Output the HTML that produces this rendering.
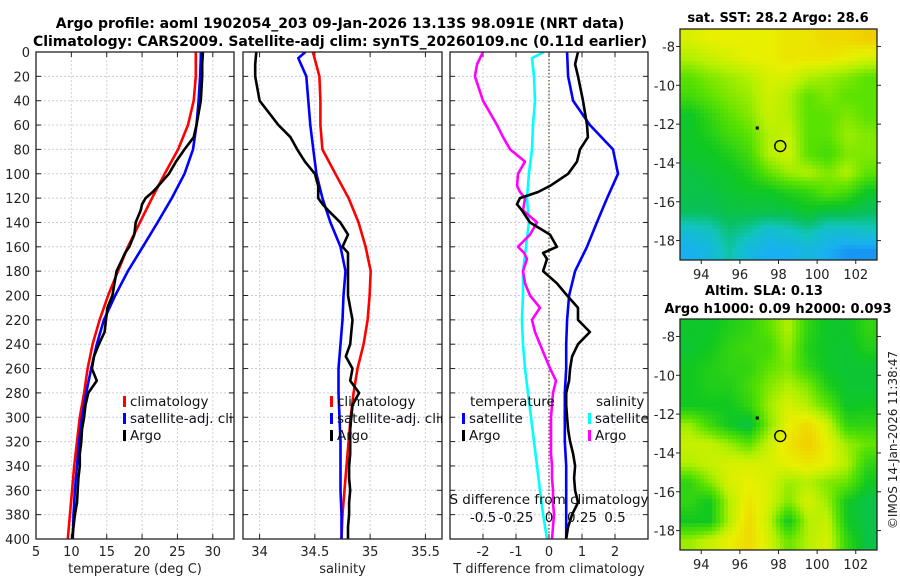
<!DOCTYPE html>
<html><head><meta charset="utf-8"><style>
html,body{margin:0;padding:0;background:#fff;}
svg{display:block;font-family:"DejaVu Sans","Liberation Sans",sans-serif;}
</style></head><body>
<svg id="fig" width="900" height="580" viewBox="0 0 900 580">
<text x="340" y="28" text-anchor="middle" font-size="14" font-weight="bold">Argo profile: aoml 1902054_203 09-Jan-2026 13.13S 98.091E (NRT data)</text>
<text x="340" y="46" text-anchor="middle" font-size="14" font-weight="bold">Climatology: CARS2009. Satellite-adj clim: synTS_20260109.nc (0.11d earlier)</text>
<text x="778" y="22" text-anchor="middle" font-size="13" font-weight="bold">sat. SST: 28.2 Argo: 28.6</text>
<text x="764" y="295" text-anchor="middle" font-size="13" font-weight="bold">Altim. SLA: 0.13</text>
<text x="778" y="313" text-anchor="middle" font-size="13" font-weight="bold">Argo h1000: 0.09 h2000: 0.093</text>
<text transform="translate(897,440) rotate(-90)" text-anchor="middle" font-size="12" fill="#222">©IMOS 14-Jan-2026 11:38:47</text>
</svg>
<script>
// ---- profile data ----
const climDepth = [0,20,40,60,80,100,120,140,160,180,200,220,240,260,280,300,320,340,360,380,400];
const satDepth = [0,5,20,40,60,80,100,120,140,160,180,200,220,240,260,280,300,320,340,360,380,400];
const argoDepth = [0,10,20,40,60,70,80,90,100,110,115,120,125,130,140,150,160,165,170,180,190,200,210,220,230,240,250,260,270,280,290,300,310,320,330,340,350,360,370,380,390,400];
const climTemp = [27.6,27.6,27.3,26.5,25.1,23.2,21.4,19.7,18.0,16.6,15.2,14.0,13.0,12.3,11.8,11.2,10.8,10.4,10.1,9.8,9.5];
const satTemp = [28.3,28.3,28.2,28.0,27.7,27.2,26.0,24.2,22.2,20.1,18.0,16.2,14.6,13.6,12.8,12.1,11.5,11.1,10.8,10.5,10.3,10.2];
const argoTemp = [28.6,28.5,28.5,28.3,27.7,27.3,26.0,24.8,23.8,22.3,21.5,20.5,20.0,19.8,19.1,18.9,18.2,17.6,17.2,16.4,16.1,15.8,15.1,14.9,14.7,13.9,13.2,12.9,13.6,12.4,12.0,11.8,11.5,11.4,11.2,11.2,11.0,10.9,10.8,10.5,10.3,10.1];
const climSal = [34.482,34.541,34.550,34.550,34.568,34.686,34.805,34.895,34.959,35.005,34.995,34.977,34.941,34.886,34.850,34.823,34.805,34.786,34.768,34.750,34.741];
const satSal = [34.414,34.350,34.423,34.441,34.459,34.486,34.514,34.568,34.641,34.732,34.777,34.759,34.750,34.732,34.714,34.714,34.723,34.732,34.732,34.732,34.741,34.741];
const argoSal = [33.97,33.96,33.96,34.0,34.17,34.28,34.34,34.41,34.50,34.53,34.53,34.53,34.57,34.62,34.73,34.80,34.75,34.80,34.80,34.80,34.80,34.80,34.82,34.84,34.83,34.82,34.78,34.84,34.82,34.90,34.84,34.83,34.82,34.82,34.82,34.81,34.81,34.82,34.81,34.81,34.80,34.80];
const satTempDiff = [0.55,0.58,0.73,1.24,1.94,2.09,1.76,1.45,1.15,0.79,0.61,0.55,0.52,0.52,0.48,0.48,0.48,0.52,0.52,0.52,0.52];
const argoTempDiff = [0.88,0.79,0.88,1.03,1.15,1.18,0.94,0.85,0.58,0.03,-0.33,-0.88,-0.97,-0.82,-0.58,0.03,0.24,-0.18,-0.06,-0.18,0.24,0.55,0.88,0.88,1.24,0.88,0.70,0.64,0.61,0.52,0.52,0.55,0.58,0.64,0.73,0.79,0.76,0.79,0.88,0.70,0.58,0.52];
const satSalDiff = [-0.038,-0.129,-0.114,-0.106,-0.121,-0.129,-0.152,-0.167,-0.152,-0.174,-0.197,-0.197,-0.205,-0.197,-0.182,-0.159,-0.136,-0.114,-0.091,-0.068,-0.045,-0.015];
const argoSalDiff = [-0.500,-0.545,-0.561,-0.500,-0.394,-0.348,-0.295,-0.182,-0.235,-0.242,-0.220,-0.182,-0.189,-0.197,-0.091,-0.144,-0.235,-0.189,-0.167,-0.197,-0.182,-0.144,-0.068,-0.129,-0.106,-0.068,-0.030,0.008,0.053,0.030,0.023,0.015,0.015,0.015,0.015,0.023,0.023,0.030,0.030,0.038,0.030,0.023];
const depthTicks = [0,20,40,60,80,100,120,140,160,180,200,220,240,260,280,300,320,340,360,380,400];
const tempTicks = [5,10,15,20,25,30];
const salTicks = [34,34.5,35,35.5];
const salTickLabels = ["34","34.5","35","35.5"];
const tdiffTicks = [-2,-1,0,1,2];
const sdiffTicks = [-0.5,-0.25,0,0.25,0.5];
const sdiffTickLabels = ["-0.5","-0.25","0","0.25","0.5"];
// ---- map data (colour index 0..1) ----
const mapLonTicks = [94,96,98,100,102];
const mapLatTicks = [-8,-10,-12,-14,-16,-18];
const sstGrid = [
[0.66,0.68,0.68,0.68,0.68,0.70,0.70,0.72,0.72,0.74],
[0.62,0.64,0.66,0.68,0.68,0.70,0.70,0.70,0.68,0.66],
[0.55,0.58,0.60,0.62,0.66,0.66,0.62,0.60,0.58,0.55],
[0.52,0.55,0.58,0.60,0.65,0.62,0.55,0.58,0.55,0.55],
[0.45,0.50,0.55,0.58,0.64,0.62,0.55,0.55,0.58,0.55],
[0.45,0.48,0.52,0.55,0.62,0.64,0.55,0.55,0.60,0.58],
[0.45,0.45,0.48,0.52,0.62,0.65,0.55,0.52,0.58,0.58],
[0.42,0.44,0.45,0.48,0.55,0.60,0.62,0.58,0.62,0.55],
[0.42,0.42,0.44,0.45,0.45,0.48,0.50,0.55,0.52,0.45],
[0.40,0.40,0.42,0.42,0.42,0.42,0.45,0.42,0.42,0.40],
[0.30,0.32,0.38,0.35,0.30,0.32,0.35,0.30,0.30,0.32],
[0.25,0.28,0.35,0.28,0.25,0.25,0.28,0.25,0.22,0.22]];
const slaGrid = [
[0.45,0.45,0.48,0.50,0.55,0.62,0.50,0.45,0.45,0.50],
[0.44,0.46,0.50,0.52,0.52,0.60,0.48,0.45,0.44,0.48],
[0.46,0.48,0.50,0.50,0.55,0.58,0.50,0.45,0.44,0.44],
[0.46,0.48,0.48,0.52,0.58,0.62,0.58,0.48,0.44,0.44],
[0.46,0.46,0.46,0.50,0.60,0.66,0.62,0.55,0.45,0.46],
[0.60,0.52,0.46,0.42,0.58,0.68,0.72,0.65,0.50,0.50],
[0.64,0.64,0.60,0.55,0.64,0.70,0.74,0.68,0.60,0.56],
[0.62,0.64,0.66,0.66,0.66,0.68,0.70,0.68,0.62,0.50],
[0.50,0.58,0.66,0.68,0.66,0.60,0.62,0.58,0.56,0.46],
[0.50,0.46,0.62,0.70,0.66,0.58,0.66,0.60,0.46,0.42],
[0.46,0.46,0.62,0.72,0.64,0.46,0.62,0.64,0.46,0.42],
[0.60,0.64,0.68,0.72,0.66,0.56,0.62,0.66,0.50,0.42]];
const argoLon = 98.091, argoLat = -13.13;
const prevLon = 96.9, prevLat = -12.2;

const NS = "http://www.w3.org/2000/svg";
const svg = document.getElementById("fig");
function mk(tag, attrs, parent){ const e=document.createElementNS(NS,tag); for(const k in attrs) e.setAttribute(k,attrs[k]); (parent||svg).appendChild(e); return e; }

const TOP=52, BOT=539;
const yD = d => TOP + d*(BOT-TOP)/400;

function panel(name, x0, x1, xmin, xmax, ticks, labels, xlabel, showY){
  const xs = v => x0 + (v-xmin)*(x1-x0)/(xmax-xmin);
  const g = mk("g",{});
  
  
  const cid = name+"-clip";
  const cp = mk("clipPath",{id:cid},g); mk("rect",{x:x0,y:TOP,width:x1-x0,height:BOT-TOP},cp);
  depthTicks.forEach(d=>{ if(d>0&&d<400){ const l=mk("line",{x1:x0,x2:x1,y1:yD(d),y2:yD(d),stroke:"#c8cce8","stroke-width":1,"stroke-dasharray":"2,2"},g);
      } });
  ticks.forEach(t=>{ const l=mk("line",{x1:xs(t),x2:xs(t),y1:TOP,y2:BOT,stroke:"#dccbd8","stroke-width":1,"stroke-dasharray":"2,2"},g);
      });
  depthTicks.forEach(d=>{ mk("line",{x1:x0,x2:x0+5,y1:yD(d),y2:yD(d),stroke:"#222"},g); mk("line",{x1:x1-5,x2:x1,y1:yD(d),y2:yD(d),stroke:"#222"},g);
    if(showY){ const t=mk("text",{x:x0-6,y:yD(d)+5,"text-anchor":"end","font-size":13,fill:"#222"},g); t.textContent=d;
        } });
  ticks.forEach((v,i)=>{ mk("line",{x1:xs(v),x2:xs(v),y1:BOT-5,y2:BOT,stroke:"#222"},g); mk("line",{x1:xs(v),x2:xs(v),y1:TOP,y2:TOP+5,stroke:"#222"},g);
    if(labels){ const t=mk("text",{x:xs(v),y:BOT+17,"text-anchor":"middle","font-size":13,fill:"#222"},g); t.textContent=labels[i];
        } });
  const xl=mk("text",{x:(x0+x1)/2,y:BOT+34,"text-anchor":"middle","font-size":13,fill:"#222"},g); xl.textContent=xlabel;
   
  const plot = mk("g",{"clip-path":`url(#${cid})`},g);
  const frame=mk("rect",{x:x0,y:TOP,width:x1-x0,height:BOT-TOP,fill:"none",stroke:"#222","stroke-width":1.3},g);
   
  return {xs, plot, g};
}
function line(p, xsF, vals, depths, color, nm){
  const pts = vals.map((v,i)=>xsF(v).toFixed(1)+","+yD(depths[i]).toFixed(1)).join(" ");
  const l = mk("polyline",{points:pts,fill:"none",stroke:color,"stroke-width":2.6,"stroke-linejoin":"round"},p);
  
  
}
function legend(p, x, y, color, label, nm){
  const g = mk("g",{},p);
  
  
  mk("rect",{x:x,y:y-10,width:3,height:11,fill:color},g);
  const t = mk("text",{x:x+7,y:y,"font-size":13.5,fill:"#111"},g); t.textContent=label;
}

const p1 = panel("temperature-panel",36,234,5,33,tempTicks,tempTicks.map(String),"temperature (deg C)",true);
line(p1.plot,p1.xs,climTemp,climDepth,"#ff0000","climatology-temp-line");
line(p1.plot,p1.xs,satTemp,satDepth,"#0000ff","satellite-temp-line");
line(p1.plot,p1.xs,argoTemp,argoDepth,"#000000","argo-temp-line");
legend(p1.plot,123,406,"#ff0000","climatology","legend-climatology");
legend(p1.plot,123,423,"#0000ff","satellite-adj. clim","legend-satellite-adj");
legend(p1.plot,123,440,"#000000","Argo","legend-argo");

const p2 = panel("salinity-panel",243,442,33.85,35.65,salTicks,salTickLabels,"salinity",false);
line(p2.plot,p2.xs,climSal,climDepth,"#ff0000","climatology-sal-line");
line(p2.plot,p2.xs,satSal,satDepth,"#0000ff","satellite-sal-line");
line(p2.plot,p2.xs,argoSal,argoDepth,"#000000","argo-sal-line");
legend(p2.plot,330,406,"#ff0000","climatology","legend-climatology-2");
legend(p2.plot,330,423,"#0000ff","satellite-adj. clim","legend-satellite-adj-2");
legend(p2.plot,330,440,"#000000","Argo","legend-argo-2");

const p3 = panel("difference-panel",450,648,-3,3,tdiffTicks,tdiffTicks.map(String),"T difference from climatology",false);
const xsS = v => p3.xs(v*4);
const zl = mk("line",{x1:p3.xs(0),x2:p3.xs(0),y1:TOP,y2:BOT,stroke:"#554422","stroke-width":1.2,"stroke-dasharray":"1.5,2"},p3.plot);
 
line(p3.plot,xsS,satSalDiff,satDepth,"#00ffff","satellite-sal-diff-line");
line(p3.plot,xsS,argoSalDiff,argoDepth,"#ff00ff","argo-sal-diff-line");
line(p3.plot,p3.xs,satTempDiff,climDepth,"#0000ff","satellite-temp-diff-line");
line(p3.plot,p3.xs,argoTempDiff,argoDepth,"#000000","argo-temp-diff-line");
const tt=mk("text",{x:470,y:406,"font-size":13.5,fill:"#111"},p3.plot); tt.textContent="temperature";
 
const st=mk("text",{x:596,y:406,"font-size":13.5,fill:"#111"},p3.plot); st.textContent="salinity";
 
legend(p3.plot,462,423,"#0000ff","satellite","legend-temp-satellite");
legend(p3.plot,462,440,"#000000","Argo","legend-temp-argo");
legend(p3.plot,588,423,"#00ffff","satellite","legend-sal-satellite");
legend(p3.plot,588,440,"#ff00ff","Argo","legend-sal-argo");
const sdl=mk("text",{x:549,y:504,"text-anchor":"middle","font-size":13.5,fill:"#111"},p3.g); sdl.textContent="S difference from climatology";
 
sdiffTicks.forEach((v,i)=>{ const t=mk("text",{x:xsS(v),y:522,"text-anchor":"middle","font-size":13.5,fill:"#111"},p3.g); t.textContent=sdiffTickLabels[i];
    });

// ---- maps ----
const cstops = [[0.15,[20,90,250]],[0.25,[24,176,240]],[0.33,[16,196,190]],[0.40,[8,192,90]],[0.46,[16,200,32]],[0.55,[90,226,0]],[0.62,[180,240,0]],[0.68,[232,240,0]],[0.75,[244,200,0]],[0.85,[240,120,0]]];
function cmap(t){
  if(t<=cstops[0][0]) return `rgb(${cstops[0][1]})`;
  for(let i=1;i<cstops.length;i++){ if(t<=cstops[i][0]){ const a=cstops[i-1],b=cstops[i],f=(t-a[0])/(b[0]-a[0]);
    return "rgb("+a[1].map((c,k)=>Math.round(c+(b[1][k]-c)*f)).join(",")+")"; } }
  return `rgb(${cstops[cstops.length-1][1]})`;
}
function sample(grid, u, v){ // u,v in cell-centre coordinates
  const R=grid.length, C=grid[0].length;
  const x=Math.min(Math.max(u-0.5,0),C-1), y=Math.min(Math.max(v-0.5,0),R-1);
  const x0=Math.floor(x), y0=Math.floor(y), x1=Math.min(x0+1,C-1), y1=Math.min(y0+1,R-1), fx=x-x0, fy=y-y0;
  return grid[y0][x0]*(1-fx)*(1-fy)+grid[y0][x1]*fx*(1-fy)+grid[y1][x0]*(1-fx)*fy+grid[y1][x1]*fx*fy;
}
function drawMap(name, grid, x0, y0, x1, y1){
  const lonMin=92.9, lonMax=103.1, latMax=-7.1, latMin=-19.0;
  const xs = lo => x0 + (lo-lonMin)*(x1-x0)/(lonMax-lonMin);
  const ys = la => y0 + (latMax-la)*(y1-y0)/(latMax-latMin);
  const g = mk("g",{});
  
  
  const rows=grid.length, cols=grid[0].length, step=4;
  const W=x1-x0, H=y1-y0;
  for(let py=0; py<H; py+=step){
    for(let px=0; px<W; px+=step){
      const v = sample(grid, (px+step/2)/W*cols, (py+step/2)/H*rows);
      const cell = mk("rect",{x:x0+px,y:y0+py,width:Math.min(step,W-px)+0.3,height:Math.min(step,H-py)+0.3,fill:cmap(v)},g);
      
      
    }
  }
  const fr = mk("rect",{x:x0,y:y0,width:W,height:H,fill:"none",stroke:"#222","stroke-width":1.3},g);
   
  mapLonTicks.forEach(lo=>{ mk("line",{x1:xs(lo),x2:xs(lo),y1:y1,y2:y1+4,stroke:"#222"},g);
    const t=mk("text",{x:xs(lo),y:y1+19,"text-anchor":"middle","font-size":13,fill:"#222"},g); t.textContent=lo;
      });
  mapLatTicks.forEach(la=>{ mk("line",{x1:x0-4,x2:x0,y1:ys(la),y2:ys(la),stroke:"#222"},g); mk("line",{x1:x1,x2:x1+4,y1:ys(la),y2:ys(la),stroke:"#222"},g);
    const t=mk("text",{x:x0-5,y:ys(la)+5,"text-anchor":"end","font-size":13,fill:"#222"},g); t.textContent=la;
      });
  const c = mk("circle",{cx:xs(argoLon),cy:ys(argoLat),r:5.5,fill:"none",stroke:"#000","stroke-width":1.4},g);
   
  const d = mk("rect",{x:xs(prevLon)-1.5,y:ys(prevLat)-1.5,width:3,height:3,fill:"#000"},g);
   
}
drawMap("sst-map", sstGrid, 680, 29, 877, 260);
drawMap("sla-map", slaGrid, 680, 319, 877, 550);
</script>
</body></html>
